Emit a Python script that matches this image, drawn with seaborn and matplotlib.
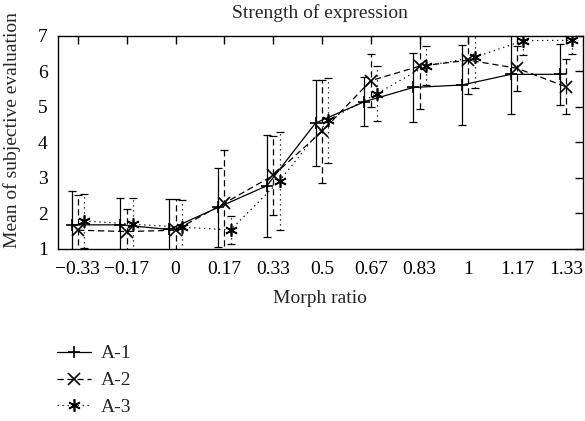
import numpy as np
import pandas as pd
import matplotlib
matplotlib.use('Agg')
import matplotlib.pyplot as plt
import seaborn as sns

# data
ratios = ['\u22120.33', '\u22120.17', '0', '0.17', '0.33', '0.5', '0.67', '0.83', '1', '1.17', '1.33']
a1_mean = [1.68, 1.68, 1.55, 2.17, 2.78, 4.55, 5.15, 5.55, 5.62, 5.92, 5.92]
a1_err = [0.95, 0.77, 0.86, 1.12, 1.43, 1.20, 0.69, 0.97, 1.12, 1.12, 0.85]
a2_mean = [1.53, 1.49, 1.53, 2.29, 3.07, 4.31, 5.74, 6.15, 6.32, 6.09, 5.57]
a2_err = [0.99, 0.64, 0.87, 1.50, 1.12, 1.44, 0.74, 1.20, 0.95, 0.63, 0.78]
a3_mean = [1.79, 1.70, 1.61, 1.54, 2.92, 4.63, 5.38, 6.16, 6.40, 6.87, 6.88]
a3_err = [0.75, 0.75, 0.77, 0.40, 1.38, 1.20, 0.78, 0.55, 0.87, 0.40, 0.40]

sns.set_style('white')
plt.rcParams['font.family'] = ['Liberation Serif', 'DejaVu Serif']
fs = 14

fig = plt.figure(figsize=(5.85, 4.21), dpi=100)
ax = fig.add_axes([0.0983, 0.4086, 0.8983, 0.5059])

# name, means, errors, x offset, marker, linestyle, marker size
series = [
    ('A-1', a1_mean, a1_err, -0.13, '+', '-', 8),
    ('A-2', a2_mean, a2_err, 0.0, 'x', (0, (5, 3)), 8),
    ('A-3', a3_mean, a3_err, 0.13, (6, 2, 0), (0, (1, 3)), 9),
]

line_handles = []
for name, mean, err, off, mk, ls, ms in series:
    df = pd.DataFrame({'pos': np.arange(len(ratios)) + off, 'mean': mean, 'err': err})
    sns.lineplot(data=df, x='pos', y='mean', ax=ax, color='black', marker=mk,
                 markersize=ms, markeredgewidth=1.2, markeredgecolor='black',
                 markerfacecolor='black', linestyle=ls, linewidth=0.9,
                 label=name, legend=False)
    line_handles.append(ax.get_lines()[-1])
    eb = ax.errorbar(df['pos'], df['mean'], yerr=df['err'], fmt='none', ecolor='black',
                     elinewidth=0.9, capsize=3, capthick=0.9)
    eb[2][0].set_linestyle(ls)

ax.set_xlim(-0.42, 10.35)
ax.set_ylim(1, 7)
ax.set_xticks(range(len(ratios)))
ax.set_xticklabels(ratios)
ax.set_yticks(range(1, 8))
ax.tick_params(direction='in', length=6, width=1, top=True, right=True,
               labelsize=fs, colors='black')
ax.tick_params(axis='x', pad=9)
ax.tick_params(axis='y', pad=7)
for s in ax.spines.values():
    s.set_color('black')
    s.set_linewidth(1)
ax.set_xlabel('Morph ratio', fontsize=fs, labelpad=8)
ax.set_ylabel('Mean of subjective evaluation', fontsize=fs)
ax.yaxis.set_label_coords(-0.07, 0.56)
ax.set_title('Strength of expression', fontsize=fs, pad=13)

fig.legend(line_handles, [l.get_label() for l in line_handles], loc='upper left',
           bbox_to_anchor=(0.097, 0.181), frameon=False, fontsize=fs,
           handlelength=1.75, handletextpad=0.5, labelspacing=0.48,
           borderpad=0, borderaxespad=0)

fig.savefig('out.png', dpi=100)
